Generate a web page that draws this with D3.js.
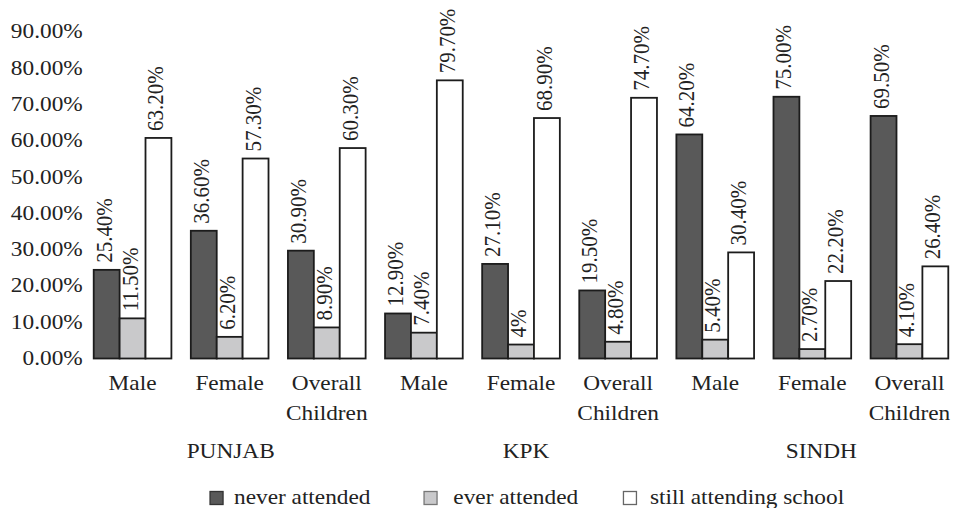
<!DOCTYPE html>
<html>
<head>
<meta charset="utf-8">
<script src="https://cdn.jsdelivr.net/npm/d3@7"></script>
<style>
  html, body { margin: 0; padding: 0; background: #fff; }
  svg { display: block; }
  text { font-family: "Liberation Serif", "Times New Roman", serif; fill: #222; }
</style>
</head>
<body>
<svg id="chart" width="958" height="508"></svg>
<script>
// ---- data ----
const regions = ["PUNJAB", "KPK", "SINDH"];
const subgroups = ["Male", "Female", "Overall Children"];
const seriesNames = ["never attended", "ever attended", "still attending school"];
const neverAttended  = [25.4, 36.6, 30.9, 12.9, 27.1, 19.5, 64.2, 75.0, 69.5];
const everAttended   = [11.5, 6.2, 8.9, 7.4, 4.0, 4.8, 5.4, 2.7, 4.1];
const stillAttending = [63.2, 57.3, 60.3, 79.7, 68.9, 74.7, 30.4, 22.2, 26.4];
const valueLabels = [
  ["25.40%", "36.60%", "30.90%", "12.90%", "27.10%", "19.50%", "64.20%", "75.00%", "69.50%"],
  ["11.50%", "6.20%", "8.90%", "7.40%", "4%", "4.80%", "5.40%", "2.70%", "4.10%"],
  ["63.20%", "57.30%", "60.30%", "79.70%", "68.90%", "74.70%", "30.40%", "22.20%", "26.40%"]
];
const tickValues = [0, 10, 20, 30, 40, 50, 60, 70, 80, 90];

// ---- build table ----
const categories = [];
regions.forEach(r => subgroups.forEach(s => categories.push({ key: r + "|" + s, region: r, sub: s })));
const seriesData = [neverAttended, everAttended, stillAttending];

// ---- layout ----
const svg = d3.select("#chart");
const SX = 1.11;        // horizontal stretch of glyphs in the reference
const FS = 21;
const fills = ["#595959", "#c9c9cb", "#ffffff"];
const legendStroke = ["#333", "#777", "#666"];

const x = d3.scaleBand().domain(categories.map(d => d.key)).range([84, 958]).paddingInner(0.2).paddingOuter(0.1);
const xs = d3.scaleBand().domain(d3.range(3)).range([0, x.bandwidth()]).padding(0);
const y = d3.scaleLinear().domain([0, 100]).range([358.5, 9.5]);
const yTicks = d3.scaleLinear().domain([0, 90]).range([357.5, 30.7]);

// y-axis labels (no line, no ticks)
const yAxis = d3.axisLeft(yTicks).tickValues(tickValues).tickSize(0).tickPadding(0)
  .tickFormat(d => d.toFixed(2) + "%");
const ya = svg.append("g").attr("transform", "translate(82.7,0)").call(yAxis);
ya.select(".domain").remove();
ya.selectAll(".tick text").each(function() {
  const t = d3.select(this);
  t.attr("x", null).attr("dy", null).attr("y", 0.338 * FS)
   .attr("font-size", FS).attr("text-anchor", "end")
   .attr("font-family", "Liberation Serif").attr("fill", "#222")
   .attr("transform", `scale(${SX},1)`);
});

// bars
const groups = svg.append("g").selectAll("g.cat").data(categories).join("g")
  .attr("class", "cat").attr("transform", d => `translate(${x(d.key)},0)`);

groups.each(function(d, i) {
  const g = d3.select(this);
  seriesData.forEach((arr, s) => {
    const v = arr[i];
    g.append("rect")
      .attr("x", xs(s)).attr("width", xs.bandwidth())
      .attr("y", y(v)).attr("height", y(0) - y(v))
      .attr("fill", fills[s]).attr("stroke", "#1c1c1c").attr("stroke-width", 1.8);
    const cx = xs(s) + xs.bandwidth() / 2 + 5;
    g.append("text")
      .attr("transform", `translate(${cx},${y(v) - 7}) scale(${SX},1) rotate(-90)`)
      .attr("font-size", FS).attr("text-anchor", "start")
      .text(valueLabels[s][i]);
  });
});

// category labels
groups.each(function(d) {
  const g = d3.select(this);
  const cx = x.bandwidth() / 2;
  const lines = d.sub === "Overall Children" ? ["Overall", "Children"] : [d.sub];
  lines.forEach((ln, k) => {
    g.append("text")
      .attr("transform", `translate(${cx},${390 + k * 29.5}) scale(${SX},1)`)
      .attr("font-size", FS).attr("text-anchor", "middle").text(ln);
  });
});

// region labels
regions.forEach((r, i) => {
  const first = x(r + "|" + subgroups[0]);
  const last = x(r + "|" + subgroups[2]) + x.bandwidth();
  const cx = (first + last) / 2 + 1 + i * 4;
  svg.append("text")
    .attr("transform", `translate(${cx},457.7) scale(${SX},1)`)
    .attr("font-size", FS).attr("text-anchor", "middle").text(r);
});

// legend
const legendSquareX = [209.3, 423.3, 622.7];
const legendTextX = [234, 453.3, 650];
seriesNames.forEach((name, s) => {
  svg.append("rect")
    .attr("x", legendSquareX[s] + 0.75).attr("y", 491.5)
    .attr("width", 13).attr("height", 13)
    .attr("fill", fills[s]).attr("stroke", legendStroke[s]).attr("stroke-width", 1.3);
  svg.append("text")
    .attr("transform", `translate(${legendTextX[s]},504) scale(${SX},1)`)
    .attr("font-size", FS).attr("text-anchor", "start").text(name);
});
</script>
</body>
</html>
